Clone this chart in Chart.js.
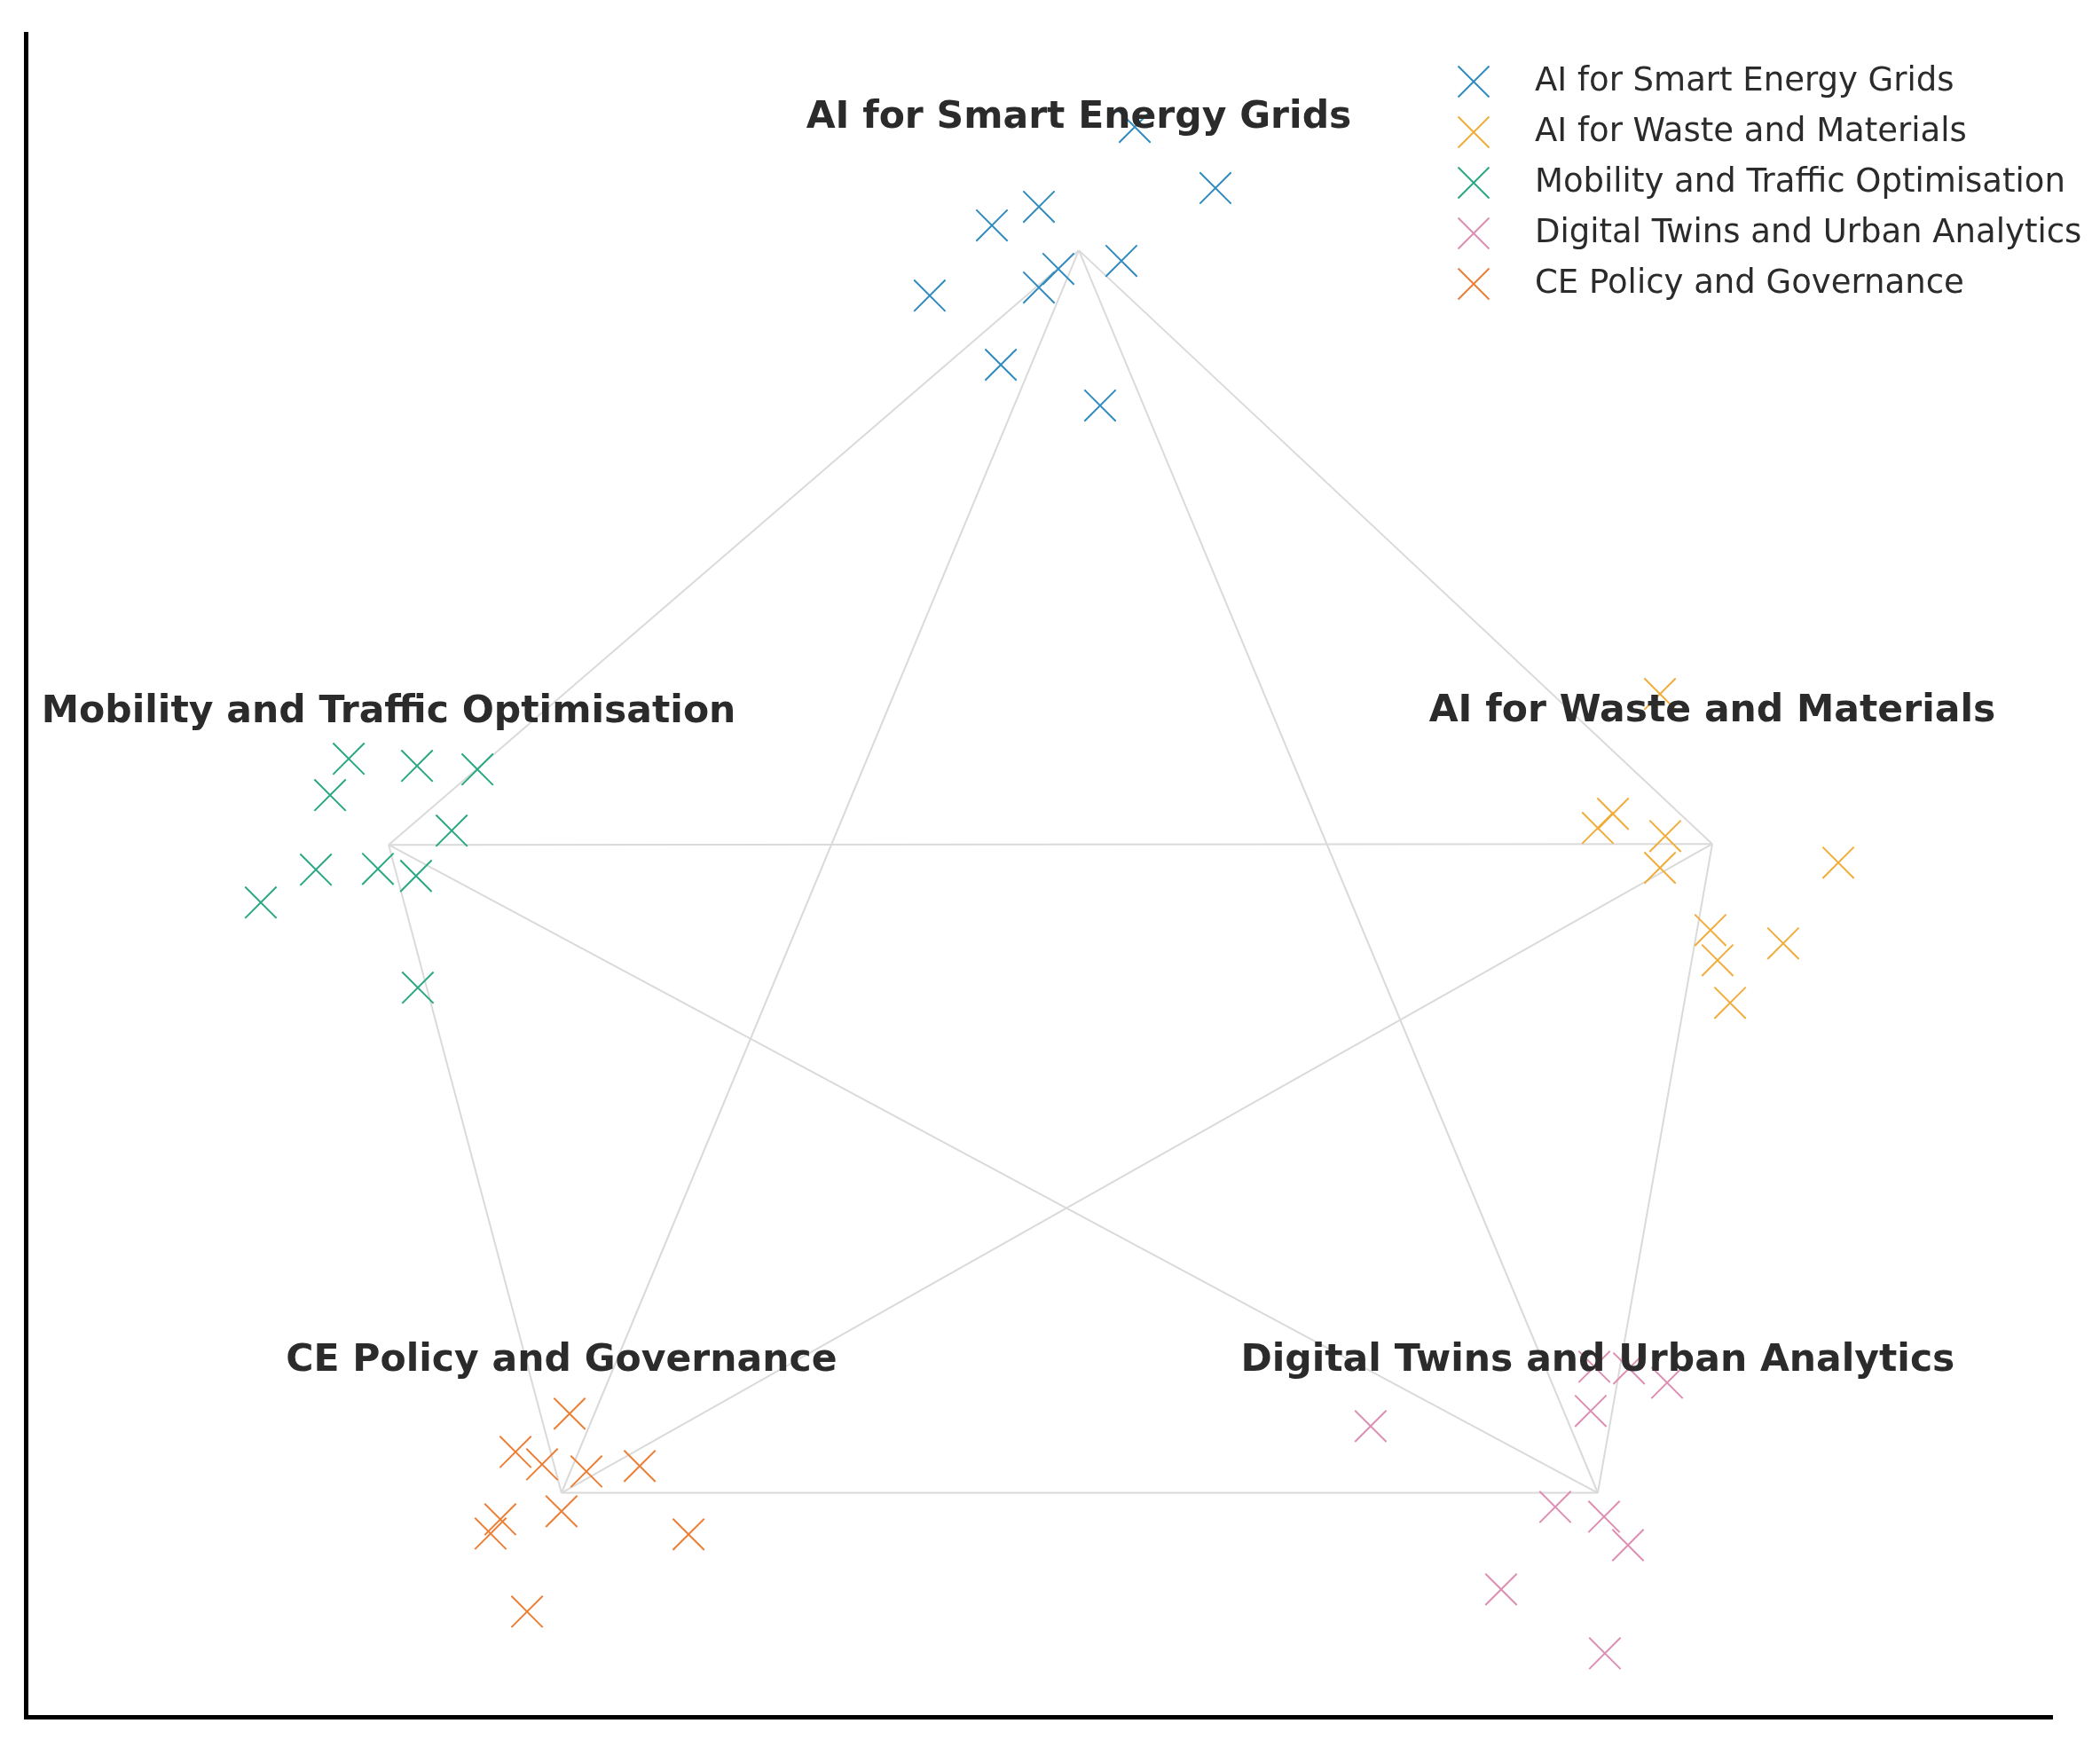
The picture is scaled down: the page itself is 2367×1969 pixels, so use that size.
<!DOCTYPE html>
<html lang="en">
<head>
  <meta charset="UTF-8" />
  <title>Research themes map</title>
  <script src="https://cdn.jsdelivr.net/npm/chart.js"></script>
  <style>
    html, body {
      margin: 0;
      padding: 0;
      background: #ffffff;
    }
    canvas {
      display: block;
    }
  </style>
</head>
<body>

  <canvas id="themeChart" width="2367" height="1969"></canvas>

  <script>
    // Theme names (legend order)
    const themes = [
      'AI for Smart Energy Grids',
      'AI for Waste and Materials',
      'Mobility and Traffic Optimisation',
      'Digital Twins and Urban Analytics',
      'CE Policy and Governance'
    ];
    const colors = ['#2f8bc0', '#f1ad3a', '#2aa883', '#dc8fb2', '#eb7f36'];

    // Cluster centres (vertices of the pentagram)
    const centreX = [51.97, 83.23, 17.91, 77.58, 26.44];
    const centreY = [87.13, 51.86, 51.81, 13.31, 13.31];

    // Papers per theme
    const energyX = [54.73, 58.71, 50.00, 47.68, 50.96, 54.07, 50.00, 44.61, 48.12, 53.02];
    const energyY = [94.46, 90.83, 89.72, 88.61, 86.03, 86.50, 84.92, 84.44, 80.33, 77.91];

    const wasteX = [80.65, 78.33, 77.58, 80.91, 80.65, 89.45, 83.14, 83.49, 86.73, 84.11];
    const wasteY = [60.77, 53.65, 52.81, 52.33, 50.44, 50.75, 46.74, 44.95, 45.95, 42.42];

    const mobilityX = [15.94, 19.31, 22.29, 15.02, 21.02, 14.32, 17.38, 19.26, 11.60, 19.35];
    const mobilityY = [56.92, 56.50, 56.29, 54.76, 52.65, 50.33, 50.38, 49.96, 48.38, 43.32];

    const twinsX = [77.41, 79.12, 81.00, 77.23, 66.37, 75.48, 77.89, 79.07, 72.81, 77.93];
    const twinsY = [20.80, 20.70, 19.85, 18.17, 17.27, 12.47, 11.89, 10.20, 7.57, 3.77];

    const policyX = [26.84, 24.17, 25.48, 27.67, 30.30, 26.44, 23.42, 22.94, 32.71, 24.74];
    const policyY = [18.01, 15.74, 15.00, 14.58, 14.90, 12.21, 11.73, 10.89, 10.84, 6.25];

    const seriesX = [energyX, wasteX, mobilityX, twinsX, policyX];
    const seriesY = [energyY, wasteY, mobilityY, twinsY, policyY];

    const toPoints = (xs, ys) => xs.map((x, i) => ({ x: x, y: ys[i] }));

    // scatter datasets
    const datasets = themes.map((name, i) => ({
      type: 'scatter',
      label: name,
      data: toPoints(seriesX[i], seriesY[i]),
      pointStyle: 'crossRot',
      pointRadius: 25,
      pointHoverRadius: 25,
      borderWidth: 2,
      borderColor: colors[i],
      backgroundColor: colors[i],
      order: 0
    }));

    // connect every pair of centres
    for (let a = 0; a < centreX.length; a++) {
      for (let b = a + 1; b < centreX.length; b++) {
        datasets.push({
          type: 'line',
          label: 'edge',
          data: [
            { x: centreX[a], y: centreY[a] },
            { x: centreX[b], y: centreY[b] }
          ],
          borderColor: '#dadada',
          borderWidth: 2,
          pointRadius: 0,
          fill: false,
          order: 10
        });
      }
    }

    // bold theme names above each centre
    const themeLabels = {
      id: 'themeLabels',
      afterDatasetsDraw(chart) {
        const { ctx, scales } = chart;
        ctx.save();
        ctx.font = 'bold 42.5px "DejaVu Sans"';
        ctx.fillStyle = '#2b2b2b';
        ctx.textAlign = 'center';
        ctx.textBaseline = 'middle';
        themes.forEach((name, i) => {
          const px = scales.x.getPixelForValue(centreX[i]);
          const py = scales.y.getPixelForValue(centreY[i]);
          ctx.fillText(name, px, py - 149);
        });
        ctx.restore();
      }
    };

    // legend drawn inside the plot, top right
    const insideLegend = {
      id: 'insideLegend',
      afterDraw(chart) {
        const ctx = chart.ctx;
        const markX = 1661, textX = 1730, top = 92, step = 57, half = 17.5;
        ctx.save();
        ctx.font = '37px "DejaVu Sans"';
        ctx.textAlign = 'left';
        ctx.textBaseline = 'middle';
        themes.forEach((name, i) => {
          const y = top + i * step;
          ctx.strokeStyle = colors[i];
          ctx.lineWidth = 2;
          ctx.beginPath();
          ctx.moveTo(markX - half, y - half);
          ctx.lineTo(markX + half, y + half);
          ctx.moveTo(markX - half, y + half);
          ctx.lineTo(markX + half, y - half);
          ctx.stroke();
          ctx.fillStyle = '#2b2b2b';
          ctx.fillText(name, textX, y);
        });
        ctx.restore();
      }
    };

    const noSize = (scale) => {
      if (scale.isHorizontal()) scale.height = 0;
      else scale.width = 0;
    };

    new Chart(document.getElementById('themeChart'), {
      type: 'scatter',
      data: { datasets: datasets },
      options: {
        responsive: false,
        animation: false,
        layout: {
          padding: { left: 29, right: 54, top: 38, bottom: 34 }
        },
        plugins: {
          legend: { display: false },
          tooltip: { enabled: false }
        },
        scales: {
          x: {
            type: 'linear',
            min: 0,
            max: 100,
            grid: { display: false, drawTicks: false },
            ticks: { display: false },
            border: { display: true, color: '#000000', width: 5 },
            afterFit: noSize
          },
          y: {
            type: 'linear',
            min: 0,
            max: 100,
            grid: { display: false, drawTicks: false },
            ticks: { display: false },
            border: { display: true, color: '#000000', width: 5 },
            afterFit: noSize
          }
        }
      },
      plugins: [themeLabels, insideLegend]
    });
  </script>

</body>
</html>
